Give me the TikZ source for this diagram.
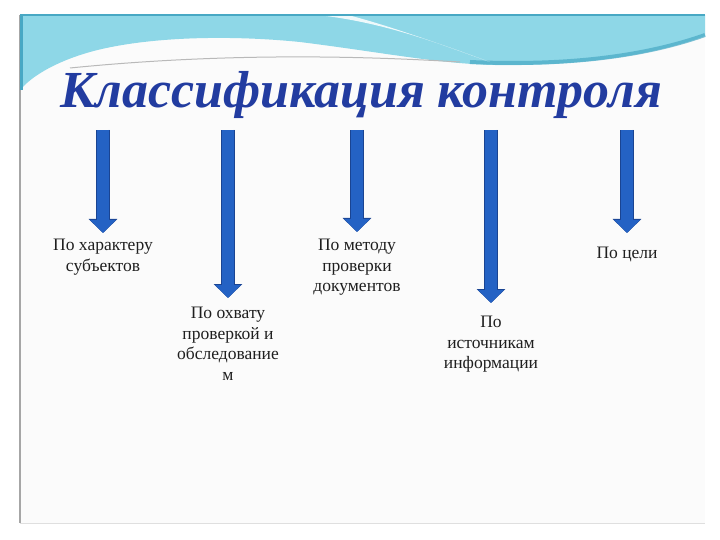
\documentclass[tikz,border=0pt]{standalone}
\usepackage{fontspec}
\setmainfont{Liberation Serif}
\usetikzlibrary{arrows.meta, positioning}

\definecolor{bandcyan}{RGB}{142,215,231}
\definecolor{banddark}{RGB}{72,168,196}
\definecolor{arrowblue}{RGB}{36,98,196}
\definecolor{arrowedge}{RGB}{26,68,146}
\definecolor{titleblue}{RGB}{34,60,160}
\definecolor{slidebg}{RGB}{251,251,251}

\begin{document}
\begin{tikzpicture}[
    x=1pt, y=-1pt,
    cls/.style={font=\fontsize{17.5}{20.5}\selectfont, text=black!88, align=center, inner sep=0pt, anchor=north},
    clsarrow/.style={line width=12pt, draw=arrowblue, -{Triangle[width=25pt,length=13pt]},
        preaction={draw=arrowedge, line width=14pt, -{Triangle[width=28pt,length=14pt]}}},
    heading/.style={font=\fontsize{52}{52}\selectfont\bfseries\itshape, inner sep=0pt, anchor=base}
]

\useasboundingbox (0,0) rectangle (720,540);
\fill[white] (0,0) rectangle (720,540);
\fill[slidebg] (20,15) rectangle (705,523);

\fill[bandcyan] (20,15) -- (705,15) -- (705,36)
    .. controls (640,60) and (560,66) .. (495,65)
    .. controls (440,64) and (380,52) .. (300,42)
    .. controls (220,34) and (140,38) .. (90,52)
    .. controls (55,62) and (32,76) .. (20,90) -- cycle;
\draw[banddark, line width=4pt, opacity=0.7] (470,62) .. controls (560,66) and (640,58) .. (705,35);
\fill[white, opacity=0.85] (318,15) .. controls (380,22) and (430,40) .. (490,62)
    .. controls (440,44) and (390,26) .. (348,15) -- cycle;
\draw[gray!55, line width=1pt] (70,68) .. controls (200,55) and (330,54) .. (460,62);
\draw[banddark, line width=1.5pt] (20,15) -- (705,15);
\draw[gray!70, line width=2pt] (20,15) -- (20,523);
\draw[banddark, line width=3pt] (21.5,15) -- (21.5,90);
\draw[gray!25, line width=0.8pt] (20,523) -- (705,523);

\node[heading, text=titleblue] (title) at (361,108) {Классификация контроля};

\coordinate (t1) at (103,130);
\coordinate (t2) at (228,130);
\coordinate (t3) at (357,130);
\coordinate (t4) at (491,130);
\coordinate (t5) at (627,130);

\node[cls] (l1) at (103,239) {По характеру\\субъектов};
\node[cls] (l2) at (228,307) {По охвату\\проверкой и\\обследование\\м};
\node[cls] (l3) at (357,239) {По методу\\проверки\\документов};
\node[cls] (l4) at (491,316) {По\\источникам\\информации};
\node[cls] (l5) at (627,247) {По цели};

\draw[clsarrow, shorten >=6pt] (t1) -- (l1.north);
\draw[clsarrow, shorten >=9pt] (t2) -- (l2.north);
\draw[clsarrow, shorten >=7pt] (t3) -- (l3.north);
\draw[clsarrow, shorten >=13pt] (t4) -- (l4.north);
\draw[clsarrow, shorten >=14pt] (t5) -- (l5.north);

\end{tikzpicture}
\end{document}
